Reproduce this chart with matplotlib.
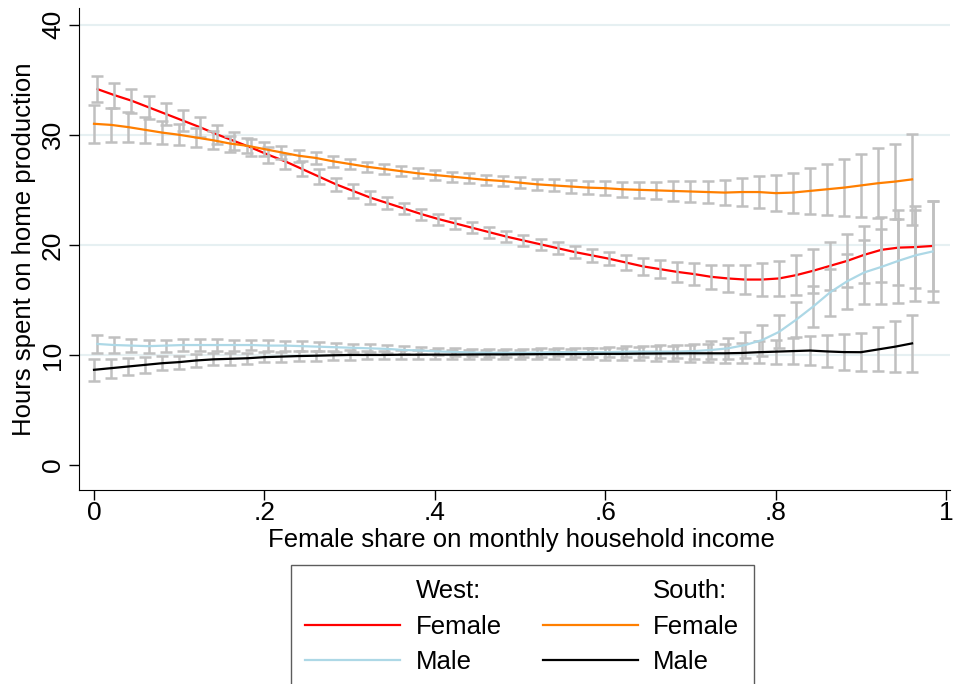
import numpy as np
import matplotlib
matplotlib.use("Agg")
import matplotlib.pyplot as plt
from matplotlib.lines import Line2D

plt.rcParams['font.family'] = ['Liberation Sans', 'DejaVu Sans']

# x positions (female share on income)
x_south = [0.00, 0.02, 0.04, 0.06, 0.08, 0.10, 0.12, 0.14, 0.16, 0.18,
           0.20, 0.22, 0.24, 0.26, 0.28, 0.30, 0.32, 0.34, 0.36, 0.38,
           0.40, 0.42, 0.44, 0.46, 0.48, 0.50, 0.52, 0.54, 0.56, 0.58,
           0.60, 0.62, 0.64, 0.66, 0.68, 0.70, 0.72, 0.74, 0.76, 0.78,
           0.80, 0.82, 0.84, 0.86, 0.88, 0.90, 0.92, 0.94, 0.96]
x_west = [0.004, 0.024, 0.044, 0.064, 0.084, 0.104, 0.124, 0.144, 0.164, 0.184,
          0.204, 0.224, 0.244, 0.264, 0.284, 0.304, 0.324, 0.344, 0.364, 0.384,
          0.404, 0.424, 0.444, 0.464, 0.484, 0.504, 0.524, 0.544, 0.564, 0.584,
          0.604, 0.624, 0.644, 0.664, 0.684, 0.704, 0.724, 0.744, 0.764, 0.784,
          0.804, 0.824, 0.844, 0.864, 0.884, 0.904, 0.924, 0.944, 0.964, 0.984]

# West, female
west_f = [34.15, 33.6, 33.1, 32.5, 31.9, 31.3, 30.7, 30.05, 29.45, 28.85,
          28.2, 27.6, 26.9, 26.2, 25.5, 24.9, 24.3, 23.8, 23.3, 22.8,
          22.35, 21.95, 21.55, 21.15, 20.75, 20.4, 20.05, 19.7, 19.35, 19.05,
          18.75, 18.4, 18.05, 17.8, 17.55, 17.35, 17.1, 16.95, 16.85, 16.85,
          16.95, 17.25, 17.65, 18.1, 18.55, 19.1, 19.55, 19.75, 19.8, 19.9]
west_f_ci = [1.2, 1.15, 1.1, 1.05, 1.0, 0.95, 0.9, 0.85, 0.8, 0.75,
             0.72, 0.7, 0.68, 0.65, 0.62, 0.6, 0.57, 0.55, 0.53, 0.5,
             0.5, 0.5, 0.5, 0.5, 0.5, 0.5, 0.52, 0.54, 0.56, 0.58,
             0.62, 0.7, 0.78, 0.85, 0.9, 0.98, 1.08, 1.2, 1.35, 1.48,
             1.62, 1.8, 2.0, 2.2, 2.4, 2.6, 2.95, 3.4, 3.7, 4.1]

# West, male
west_m = [11.0, 10.9, 10.85, 10.8, 10.85, 10.9, 10.9, 10.9, 10.9, 10.9,
          10.85, 10.85, 10.8, 10.75, 10.7, 10.65, 10.6, 10.55, 10.45, 10.4,
          10.32, 10.27, 10.22, 10.2, 10.2, 10.2, 10.22, 10.25, 10.25, 10.25,
          10.25, 10.3, 10.3, 10.3, 10.3, 10.35, 10.45, 10.6, 10.9, 11.35,
          12.1, 13.2, 14.4, 15.7, 16.7, 17.5, 18.0, 18.55, 19.05, 19.4]
west_m_ci = [0.85, 0.7, 0.62, 0.58, 0.55, 0.55, 0.53, 0.52, 0.5, 0.48,
             0.47, 0.45, 0.43, 0.42, 0.4, 0.38, 0.37, 0.36, 0.35, 0.35,
             0.35, 0.35, 0.35, 0.35, 0.35, 0.36, 0.37, 0.38, 0.4, 0.42,
             0.45, 0.48, 0.52, 0.56, 0.6, 0.68, 0.78, 0.95, 1.2, 1.4,
             1.5, 1.6, 1.9, 2.15, 2.5, 2.9, 3.4, 3.8, 4.15, 4.6]

# South, female
south_f = [31.0, 30.9, 30.7, 30.45, 30.2, 30.0, 29.75, 29.5, 29.2, 29.0,
           28.7, 28.4, 28.1, 27.9, 27.6, 27.35, 27.1, 26.9, 26.7, 26.5,
           26.35, 26.2, 26.05, 25.9, 25.8, 25.65, 25.5, 25.4, 25.3, 25.2,
           25.15, 25.05, 25.0, 24.95, 24.9, 24.85, 24.8, 24.75, 24.8, 24.8,
           24.7, 24.75, 24.9, 25.05, 25.2, 25.4, 25.6, 25.75, 25.95]
south_f_ci = [1.75, 1.55, 1.35, 1.2, 1.05, 0.95, 0.85, 0.8, 0.72, 0.67,
              0.62, 0.58, 0.55, 0.52, 0.5, 0.48, 0.46, 0.45, 0.45, 0.45,
              0.45, 0.45, 0.46, 0.47, 0.48, 0.5, 0.52, 0.55, 0.58, 0.62,
              0.65, 0.7, 0.75, 0.8, 0.88, 0.95, 1.02, 1.15, 1.3, 1.45,
              1.62, 1.82, 2.05, 2.3, 2.6, 2.9, 3.2, 3.4, 4.1]

# South, male
south_m = [8.65, 8.8, 8.95, 9.1, 9.25, 9.35, 9.5, 9.6, 9.65, 9.7,
           9.8, 9.85, 9.9, 9.93, 9.97, 10.0, 10.0, 10.0, 10.02, 10.02,
           10.03, 10.03, 10.04, 10.05, 10.05, 10.06, 10.07, 10.08, 10.08, 10.09,
           10.1, 10.1, 10.12, 10.13, 10.14, 10.15, 10.15, 10.15, 10.18, 10.25,
           10.3, 10.35, 10.4, 10.32, 10.26, 10.25, 10.5, 10.75, 11.05]
south_m_ci = [1.0, 0.85, 0.75, 0.7, 0.65, 0.6, 0.57, 0.55, 0.52, 0.5,
              0.48, 0.46, 0.45, 0.44, 0.43, 0.42, 0.4, 0.4, 0.4, 0.4,
              0.4, 0.4, 0.4, 0.4, 0.4, 0.42, 0.44, 0.46, 0.48, 0.5,
              0.53, 0.56, 0.6, 0.65, 0.7, 0.75, 0.8, 0.87, 0.95, 1.02,
              1.1, 1.15, 1.3, 1.45, 1.6, 1.75, 2.0, 2.3, 2.6]

xticks = [0, 0.2, 0.4, 0.6, 0.8, 1.0]
xtick_labels = ['0', '.2', '.4', '.6', '.8', '1']
yticks = [0, 10, 20, 30, 40]


def main():
    fig = plt.figure(figsize=(9.6, 6.84), dpi=100)
    ax = fig.add_axes([0.0823, 0.2836, 0.9077, 0.7044])

    ci_col = '#c0c0c0'
    ebkw = dict(fmt='none', ecolor=ci_col, elinewidth=1.8, capsize=4.3, capthick=1.8, zorder=2)

    ax.plot(x_west, west_f, color='#ff0000', linewidth=1.6, zorder=1)
    ax.errorbar(x_west, west_f, yerr=west_f_ci, **ebkw)
    ax.errorbar(x_west, west_m, yerr=west_m_ci, **ebkw)
    ax.errorbar(x_south, south_f, yerr=south_f_ci, **ebkw)
    ax.errorbar(x_south, south_m, yerr=south_m_ci, **ebkw)
    ax.plot(x_west, west_m, color='#add8e6', linewidth=1.6, zorder=3)
    ax.plot(x_south, south_f, color='#ff7f00', linewidth=1.6, zorder=3)
    ax.plot(x_south, south_m, color='black', linewidth=1.6, zorder=3)

    for yv in yticks[1:]:
        ax.axhline(yv, color='#e6f0f2', linewidth=1.5, zorder=0)

    ax.set_xlim(-0.0176, 1.005)
    ax.set_ylim(-2.27, 41.5)
    ax.set_xticks(xticks)
    ax.set_xticklabels(xtick_labels)
    ax.set_yticks(yticks)
    ax.tick_params(axis='both', direction='out', length=7, width=1, labelsize=19, pad=3)
    ax.tick_params(axis='x', pad=1)
    for lab in ax.get_yticklabels():
        lab.set_rotation(90)
        lab.set_va('center')
    ax.spines['top'].set_visible(False)
    ax.spines['right'].set_visible(False)
    ax.set_xlabel('Female share on monthly household income', fontsize=18.5)
    ax.xaxis.set_label_coords(0.508, -0.078)
    ax.set_ylabel('Hours spent on home production', fontsize=18.5, labelpad=4)

    blank = Line2D([], [], color='none')
    handles = [blank,
               Line2D([], [], color='#ff0000', linewidth=1.6),
               Line2D([], [], color='#add8e6', linewidth=1.6),
               blank,
               Line2D([], [], color='#ff7f00', linewidth=1.6),
               Line2D([], [], color='black', linewidth=1.6)]
    labels = ['West:', 'Female', 'Male', 'South:', 'Female', 'Male']
    leg = fig.legend(handles, labels, ncol=2, loc='upper center',
                     bbox_to_anchor=(0.544, 0.174), fontsize=18.5,
                     frameon=True, fancybox=False, edgecolor='#333333',
                     handlelength=3.7, handletextpad=0.6, columnspacing=1.6,
                     labelspacing=0.45, borderpad=0.55, borderaxespad=0)
    leg.get_frame().set_linewidth(1.0)

    fig.savefig('out.png', dpi=100)


if __name__ == '__main__':
    main()
